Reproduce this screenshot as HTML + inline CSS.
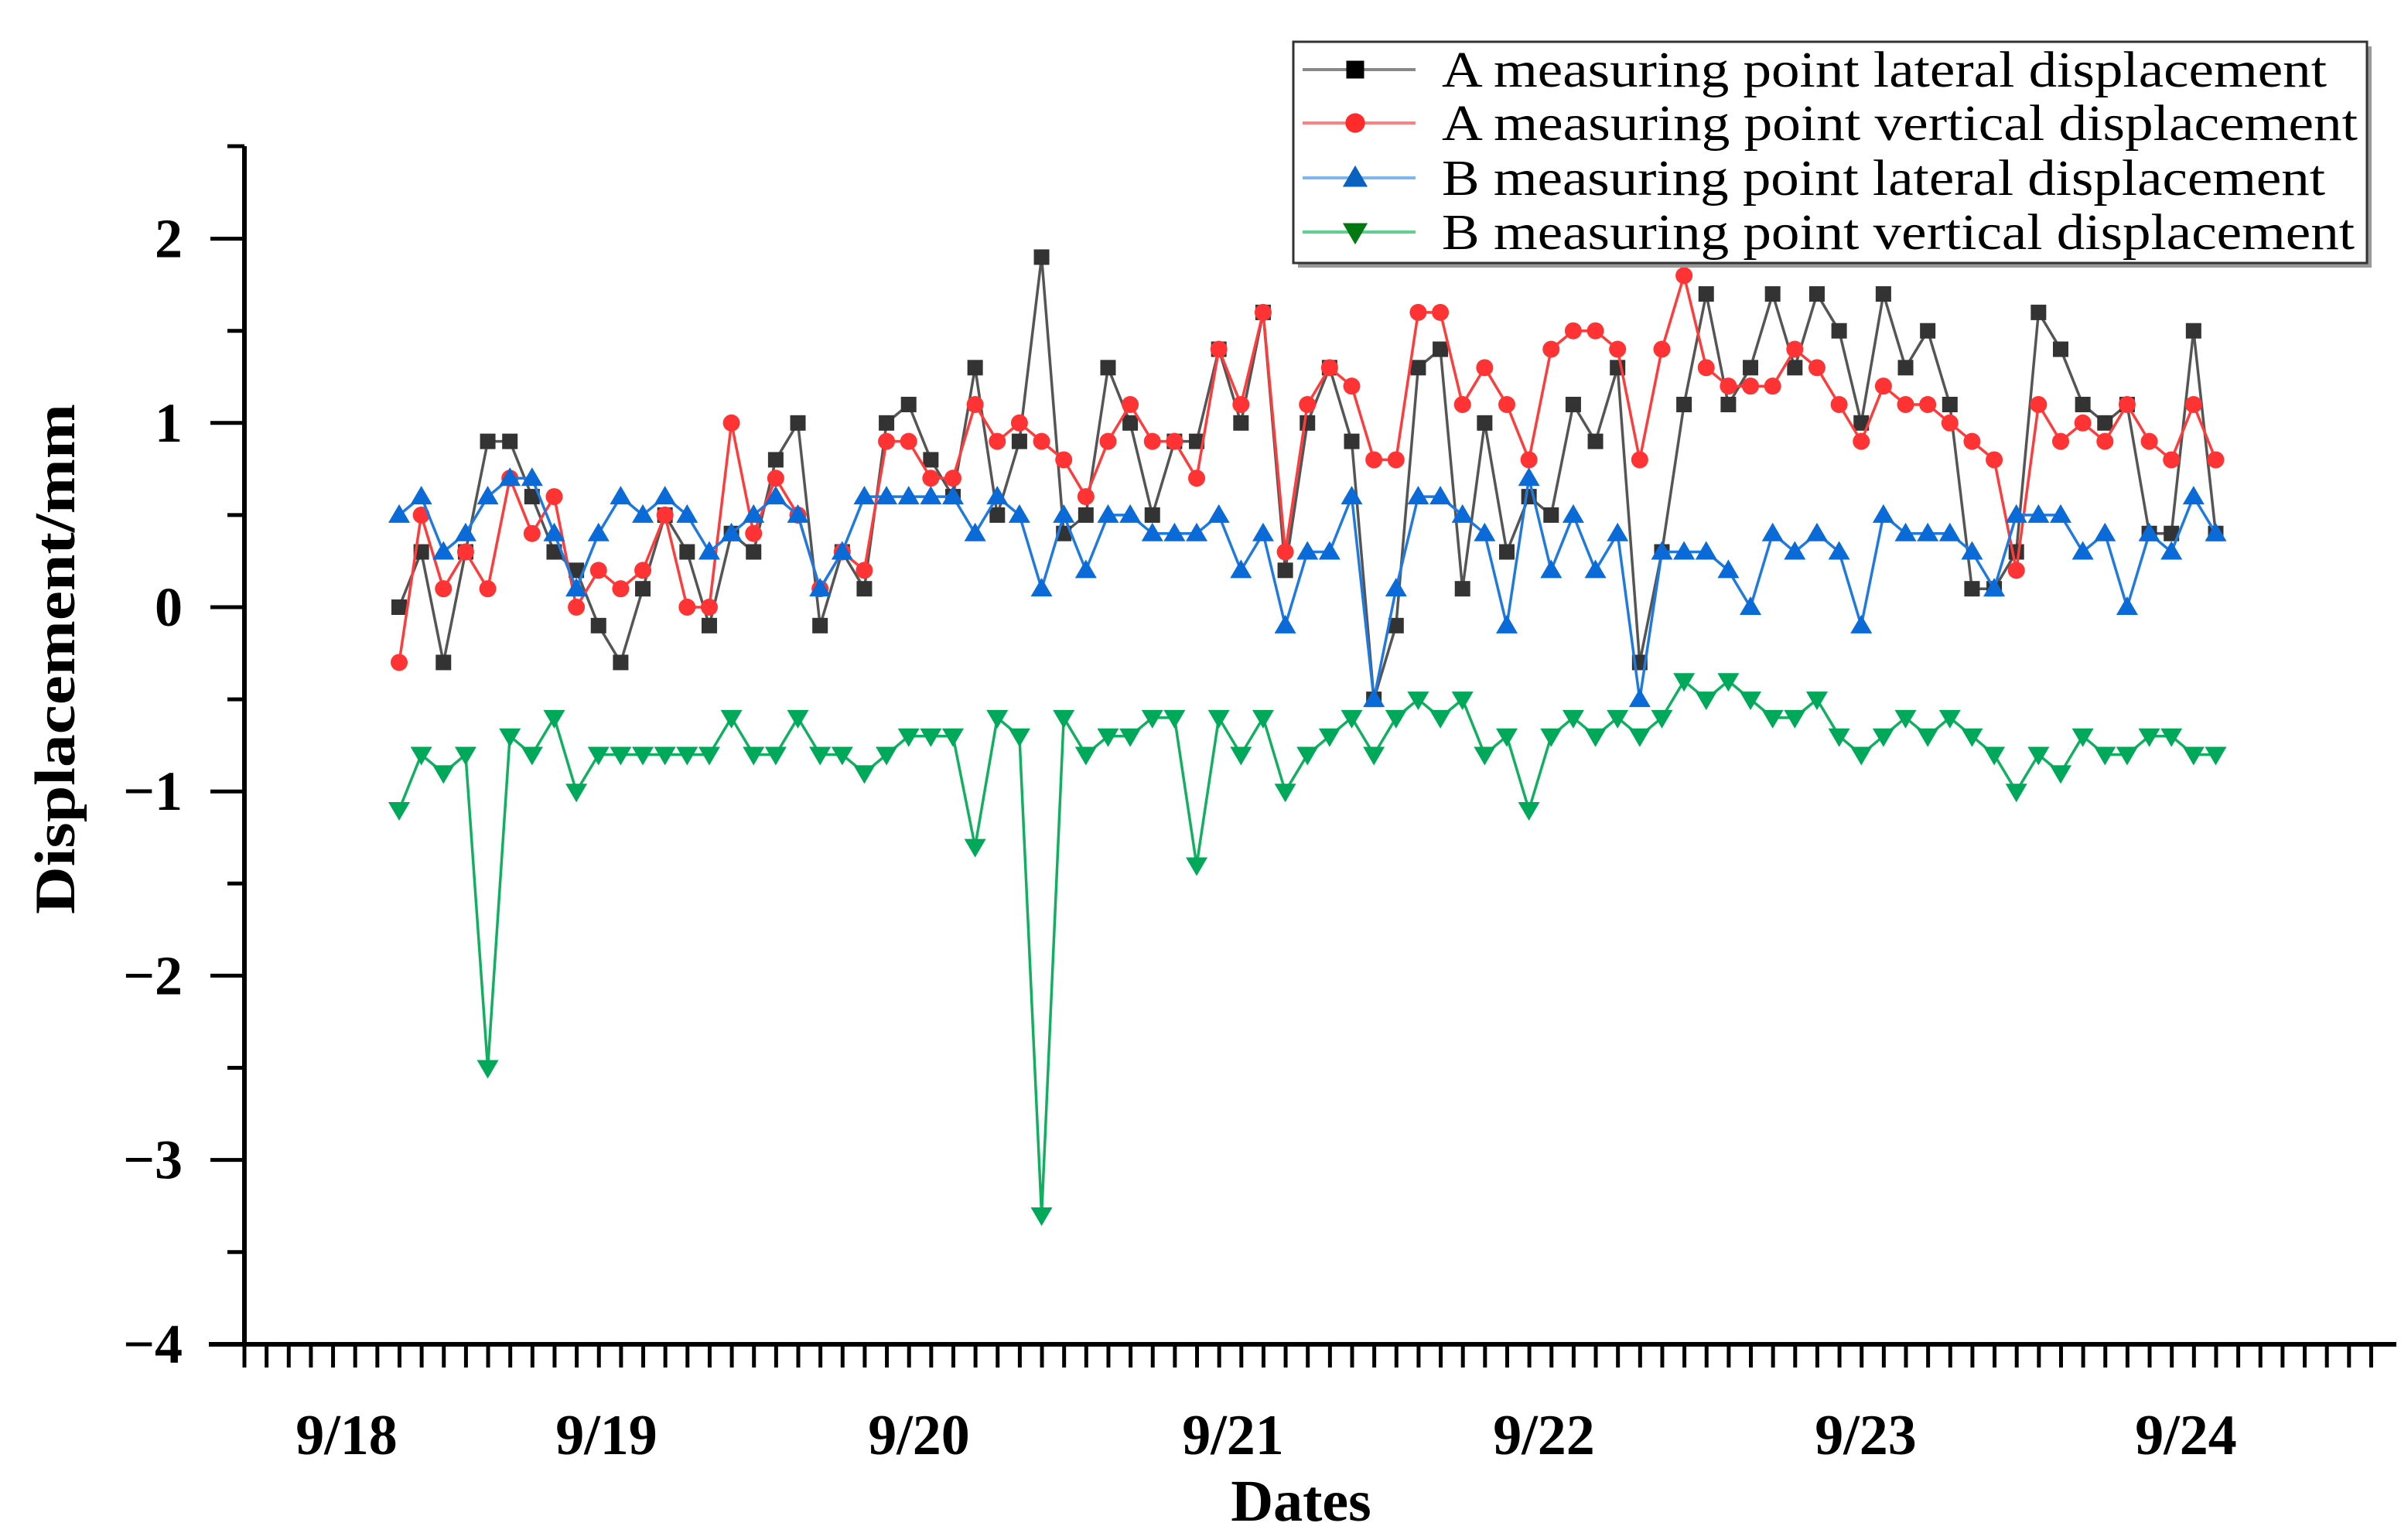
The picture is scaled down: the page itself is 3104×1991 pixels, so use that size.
<!DOCTYPE html>
<html><head><meta charset="utf-8">
<style>
html,body{margin:0;padding:0;background:#fff;}
svg{display:block;}
text{font-family:"Liberation Serif",serif;}
</style></head>
<body>
<svg id="chart" width="3104" height="1991" viewBox="0 0 3104 1991" xmlns="http://www.w3.org/2000/svg">
  <g id="axes"></g>
  <g id="series"></g>
  <text x="0" y="0" transform="translate(96,852) rotate(-90)" text-anchor="middle" font-size="74" font-weight="bold" textLength="660" lengthAdjust="spacingAndGlyphs">Displacement/mm</text>
  <text x="1682" y="1966" text-anchor="middle" font-size="76" font-weight="bold">Dates</text>
  <g id="legend">
    <rect x="1678" y="60" width="1388" height="286" fill="#999"/>
    <rect x="1672" y="54" width="1388" height="286" fill="#fff" stroke="#333" stroke-width="3"/>
  </g>
</svg>
<script>
const dateLabels = ["9/18","9/19","9/20","9/21","9/22","9/23","9/24"];
const dateLabelX = [448, 784, 1188, 1594, 1996, 2412, 2826];
const yTicks = [2, 1, 0, -1, -2, -3, -4];
const yTickLabels = ["2","1","0","\u22121","\u22122","\u22123","\u22124"];
const seriesNames = ["A measuring point lateral displacement","A measuring point vertical displacement","B measuring point lateral displacement","B measuring point vertical displacement"];
const aLateral = [0,0.3,-0.3,0.3,0.9,0.9,0.6,0.3,0.2,-0.1,-0.3,0.1,0.5,0.3,-0.1,0.4,0.3,0.8,1.0,-0.1,0.3,0.1,1.0,1.1,0.8,0.6,1.3,0.5,0.9,1.9,0.4,0.5,1.3,1.0,0.5,0.9,0.9,1.4,1.0,1.6,0.2,1.0,1.3,0.9,-0.5,-0.1,1.3,1.4,0.1,1.0,0.3,0.6,0.5,1.1,0.9,1.3,-0.3,0.3,1.1,1.7,1.1,1.3,1.7,1.3,1.7,1.5,1.0,1.7,1.3,1.5,1.1,0.1,0.1,0.3,1.6,1.4,1.1,1.0,1.1,0.4,0.4,1.5,0.4];
const aVertical = [-0.3,0.5,0.1,0.3,0.1,0.7,0.4,0.6,0.0,0.2,0.1,0.2,0.5,0.0,0.0,1.0,0.4,0.7,0.5,0.1,0.3,0.2,0.9,0.9,0.7,0.7,1.1,0.9,1.0,0.9,0.8,0.6,0.9,1.1,0.9,0.9,0.7,1.4,1.1,1.6,0.3,1.1,1.3,1.2,0.8,0.8,1.6,1.6,1.1,1.3,1.1,0.8,1.4,1.5,1.5,1.4,0.8,1.4,1.8,1.3,1.2,1.2,1.2,1.4,1.3,1.1,0.9,1.2,1.1,1.1,1.0,0.9,0.8,0.2,1.1,0.9,1.0,0.9,1.1,0.9,0.8,1.1,0.8];
const bLateral = [0.5,0.6,0.3,0.4,0.6,0.7,0.7,0.4,0.1,0.4,0.6,0.5,0.6,0.5,0.3,0.4,0.5,0.6,0.5,0.1,0.3,0.6,0.6,0.6,0.6,0.6,0.4,0.6,0.5,0.1,0.5,0.2,0.5,0.5,0.4,0.4,0.4,0.5,0.2,0.4,-0.1,0.3,0.3,0.6,-0.5,0.1,0.6,0.6,0.5,0.4,-0.1,0.7,0.2,0.5,0.2,0.4,-0.5,0.3,0.3,0.3,0.2,0.0,0.4,0.3,0.4,0.3,-0.1,0.5,0.4,0.4,0.4,0.3,0.1,0.5,0.5,0.5,0.3,0.4,0.0,0.4,0.3,0.6,0.4];
const bVertical = [-1.1,-0.8,-0.9,-0.8,-2.5,-0.7,-0.8,-0.6,-1.0,-0.8,-0.8,-0.8,-0.8,-0.8,-0.8,-0.6,-0.8,-0.8,-0.6,-0.8,-0.8,-0.9,-0.8,-0.7,-0.7,-0.7,-1.3,-0.6,-0.7,-3.3,-0.6,-0.8,-0.7,-0.7,-0.6,-0.6,-1.4,-0.6,-0.8,-0.6,-1.0,-0.8,-0.7,-0.6,-0.8,-0.6,-0.5,-0.6,-0.5,-0.8,-0.7,-1.1,-0.7,-0.6,-0.7,-0.6,-0.7,-0.6,-0.4,-0.5,-0.4,-0.5,-0.6,-0.6,-0.5,-0.7,-0.8,-0.7,-0.6,-0.7,-0.6,-0.7,-0.8,-1.0,-0.8,-0.9,-0.7,-0.8,-0.8,-0.7,-0.7,-0.8,-0.8];

const NS = "http://www.w3.org/2000/svg";
const X0 = 516, DX = 28.64;
function xScale(i){ return X0 + i*DX; }
function yScale(v){ return 785 - v*238.2; }
function mk(tag, attrs, parent){
  const e = document.createElementNS(NS, tag);
  for (const k in attrs) e.setAttribute(k, attrs[k]);
  parent.appendChild(e);
  return e;
}
const axes = document.getElementById('axes');
const AX = 316, AY = 1738;
let e;
e = mk('line',{x1:AX,y1:189,x2:AX,y2:AY,stroke:'#000','stroke-width':6},axes);


e = mk('line',{x1:AX-22,y1:189,x2:AX,y2:189,stroke:'#000','stroke-width':5},axes);


e = mk('line',{x1:270,y1:AY,x2:3098,y2:AY,stroke:'#000','stroke-width':6},axes);


yTicks.forEach((v,i)=>{
  const y = yScale(v);
  const t = mk('line',{x1:AX-44,y1:y,x2:AX,y2:y,stroke:'#000','stroke-width':5},axes);
  
  
  if (i < yTicks.length-1){
    const ym = yScale(v-0.5);
    const m = mk('line',{x1:AX-22,y1:ym,x2:AX,y2:ym,stroke:'#000','stroke-width':5},axes);
    
    
  }
  const lb = mk('text',{x:236,y:y+24,'text-anchor':'end','font-size':72,'font-weight':'bold'},axes);
  lb.textContent = yTickLabels[i];
  
  
});
for (let x = AX; x < 3090; x += DX){
  const t = mk('line',{x1:x,y1:AY,x2:x,y2:AY+30,stroke:'#000','stroke-width':5},axes);
  
  
}
dateLabels.forEach((d,i)=>{
  const lb = mk('text',{x:dateLabelX[i],y:1880,'text-anchor':'middle','font-size':74,'font-weight':'bold'},axes);
  lb.textContent = d;
  
  
});

function marker(kind, cx, cy, fill, parent, s){
  s = s || 1;
  let m;
  if (kind==='square') m = mk('rect',{x:cx-10*s,y:cy-10*s,width:20*s,height:20*s,fill:fill},parent);
  else if (kind==='circle') m = mk('circle',{cx:cx,cy:cy,r:11*s,fill:fill},parent);
  else if (kind==='up') m = mk('polygon',{points:`${cx-14*s},${cy+10*s} ${cx+14*s},${cy+10*s} ${cx},${cy-14*s}`,fill:fill},parent);
  else m = mk('polygon',{points:`${cx-14*s},${cy-10*s} ${cx+14*s},${cy-10*s} ${cx},${cy+14*s}`,fill:fill},parent);
  return m;
}
const seriesDefs = [
  {data:aLateral, line:'#555', fill:'#333', kind:'square', name:'a-lateral', legendFill:'#000'},
  {data:aVertical, line:'#ff3b3b', fill:'#ff3333', kind:'circle', name:'a-vertical', legendFill:'#ff2a2a'},
  {data:bLateral, line:'#1f7ae0', fill:'#0a6ad8', kind:'up', name:'b-lateral', legendFill:'#0a62c0'},
  {data:bVertical, line:'#10b060', fill:'#00a85a', kind:'down', name:'b-vertical', legendFill:'#007a10'}
];
const sg = document.getElementById('series');
seriesDefs.forEach(sd=>{
  const g = mk('g',{},sg);
  
  
  const pts = sd.data.map((v,i)=>xScale(i).toFixed(1)+','+yScale(v).toFixed(1)).join(' ');
  const pl = mk('polyline',{points:pts,fill:'none',stroke:sd.line,'stroke-width':3.5,'stroke-linejoin':'round'},g);
  
  
  sd.data.forEach((v,i)=>{
    const m = marker(sd.kind, xScale(i), yScale(v), sd.fill, g);
    
    
  });
});
const lg = document.getElementById('legend');
const legendY = [90, 159, 230, 300];
const legendW = [1144, 1184, 1142, 1180];
const legendLine = ['#888','#ff8080','#7fb6f0','#60d090'];
seriesDefs.forEach((sd,i)=>{
  const y = legendY[i];
  const l = mk('line',{x1:1684,y1:y,x2:1830,y2:y,stroke:legendLine[i],'stroke-width':4},lg);
  
  
  const m = marker(sd.kind, 1752, y, sd.legendFill, lg, 1.15);
  
  
  const t = mk('text',{x:1864,y:y+22,'font-size':66,textLength:legendW[i],lengthAdjust:'spacingAndGlyphs'},lg);
  t.textContent = seriesNames[i];
  
  
});
</script>
</body></html>
